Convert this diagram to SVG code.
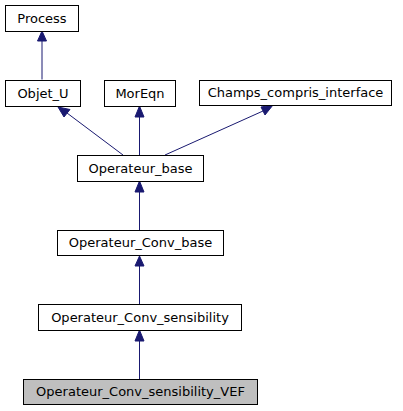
<svg xmlns="http://www.w3.org/2000/svg" width="403" height="411" viewBox="0 0 403 411">
<style>
.n rect{fill:#fff;stroke:#000;stroke-width:1}
.n.h rect{fill:#bfbfbf;stroke:#000}
.n text{font-family:"DejaVu Sans",sans-serif;font-size:13px;text-anchor:middle;fill:#000}
.e path{fill:none;stroke:#191970;stroke-width:1}
.e polygon{fill:#191970;stroke:#191970}
</style>
<rect width="403" height="411" fill="#fff"/>
<g class="e" id="edges">
<path d="M42,79.5 V40"/><polygon points="37.5,41 42,31 46.5,41"/>
<path d="M123,155 L67,113"/><polygon points="64,117 58,107 70,109.5"/>
<path d="M139.5,155 V116"/><polygon points="135,117 139.5,106 144,117"/>
<path d="M165,155 L263,111"/><polygon points="261,107 273,105 265,115"/>
<path d="M139.5,230 V191"/><polygon points="135,192 139.5,181 144,192"/>
<path d="M139.5,304 V266"/><polygon points="135,266 139.5,256 144,266"/>
<path d="M139.5,379 V340"/><polygon points="135,341 139.5,330 144,341"/>
</g>
<g class="n" id="n_process"><rect x="5.5" y="5.5" width="73" height="26"/><text x="42" y="22.5">Process</text></g>
<g class="n" id="n_objet_u"><rect x="5.5" y="80.5" width="75" height="26"/><text x="43" y="97.5">Objet_U</text></g>
<g class="n" id="n_moreqn"><rect x="104.5" y="80.5" width="71" height="26"/><text x="140" y="97.5">MorEqn</text></g>
<g class="n" id="n_champs"><rect x="199.5" y="80.5" width="192" height="25"/><text x="295.5" y="97">Champs_compris_interface</text></g>
<g class="n" id="n_operateur_base"><rect x="77.5" y="155.5" width="126" height="26"/><text x="140.5" y="172.5">Operateur_base</text></g>
<g class="n" id="n_conv_base"><rect x="57.5" y="230.5" width="166" height="25"/><text x="140.5" y="247">Operateur_Conv_base</text></g>
<g class="n" id="n_conv_sens"><rect x="38.5" y="304.5" width="203" height="26"/><text x="140" y="321.5">Operateur_Conv_sensibility</text></g>
<g class="n h" id="n_conv_sens_vef"><rect x="23.5" y="379.5" width="234" height="25"/><text x="140.5" y="396">Operateur_Conv_sensibility_VEF</text></g>
</svg>
